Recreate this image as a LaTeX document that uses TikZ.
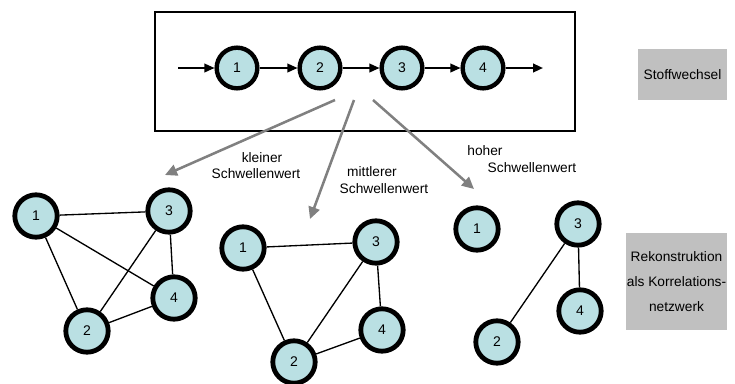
\documentclass[tikz,border=0pt]{standalone}
\usepackage{fontspec}
\setmainfont{Liberation Sans}
\usetikzlibrary{arrows.meta}
\definecolor{nodefill}{RGB}{186,224,227}
\definecolor{arrgray}{RGB}{128,128,128}
\definecolor{boxgray}{RGB}{192,192,192}
\tikzset{
  px/.style={x=0.75pt,y=-0.75pt},
  met/.style={circle,draw=black,fill=nodefill,line width=3.3pt,minimum size=30.5pt,inner sep=0pt,font=\fontsize{10.5pt}{12pt}\selectfont},
  net/.style={circle,draw=black,fill=nodefill,line width=3.6pt,minimum size=31.8pt,inner sep=0pt,font=\fontsize{10.5pt}{12pt}\selectfont},
  flow/.style={line width=1.1pt,-{Triangle[length=7.5pt,width=6.5pt]}},
  edge/.style={line width=1pt},
  grayarrow/.style={draw=arrgray,line width=1.9pt,-{Triangle[length=9pt,width=8.5pt]},arrgray},
  lbl/.style={font=\fontsize{10.3pt}{12pt}\selectfont,inner sep=0pt},
  graybox/.style={fill=boxgray,inner sep=0pt,font=\fontsize{10.3pt}{18.75pt}\selectfont}
}
\begin{document}
\begin{tikzpicture}[px]
\useasboundingbox (0,0) rectangle (735,383);
% top frame
\node[draw=black,line width=1.1pt,minimum width=315pt,minimum height=89pt,inner sep=0pt] (frame) at (365,71.5) {};
% metabolic chain
\node[met] (m1) at (237,68) {1};
\node[met] (m2) at (320,68) {2};
\node[met] (m3) at (402,68) {3};
\node[met] (m4) at (483,68) {4};
\coordinate (in) at (178,68);
\coordinate (out) at (543,68);
\draw[flow] (in) -- (m1);
\draw[flow] (m1) -- (m2);
\draw[flow] (m2) -- (m3);
\draw[flow] (m3) -- (m4);
\draw[flow,line width=1.6pt] (m4) -- (out);
% side boxes
\node[graybox,minimum width=66.75pt,minimum height=38.25pt] (stoff) at (682.5,74.5) {Stoffwechsel};
\node[graybox,minimum width=75.75pt,minimum height=72.75pt,align=center] (rekon) at (676.5,281.5)
  {Rekonstruktion\\als Korrelations-\\netzwerk};
% gray arrows
\coordinate (s1) at (335,100);
\coordinate (e1) at (165,175);
\coordinate (s2) at (354,100);
\coordinate (e2) at (310,219);
\coordinate (s3) at (373,100);
\coordinate (e3) at (474,189);
\draw[grayarrow] (s1) -- (e1);
\draw[grayarrow] (s2) -- (e2);
\draw[grayarrow] (s3) -- (e3);
% labels
\node[lbl] (k1) at (262,158) {kleiner};
\node[lbl] (k2) at (256,174) {Schwellenwert};
\node[lbl] (mi1) at (372,172) {mittlerer};
\node[lbl] (mi2) at (384,189) {Schwellenwert};
\node[lbl] (h1) at (485,151) {hoher};
\node[lbl] (h2) at (532,168) {Schwellenwert};
% left network
\node[net] (a1) at (36,216) {1};
\node[net] (a3) at (169,211) {3};
\node[net] (a4) at (174,298) {4};
\node[net] (a2) at (87,331) {2};
\draw[edge] (a1) -- (a3);
\draw[edge] (a1) -- (a2);
\draw[edge] (a1) -- (a4);
\draw[edge] (a3) -- (a2);
\draw[edge] (a3) -- (a4);
\draw[edge] (a2) -- (a4);
% middle network
\node[net] (b1) at (243,248) {1};
\node[net] (b3) at (376,242) {3};
\node[net] (b4) at (382,330) {4};
\node[net] (b2) at (294,362) {2};
\draw[edge] (b1) -- (b3);
\draw[edge] (b1) -- (b2);
\draw[edge] (b3) -- (b2);
\draw[edge] (b3) -- (b4);
\draw[edge] (b2) -- (b4);
% right network
\node[net] (c1) at (477,229) {1};
\node[net] (c3) at (578,224) {3};
\node[net] (c4) at (580,311) {4};
\node[net] (c2) at (497,342) {2};
\draw[edge] (c3) -- (c2);
\draw[edge] (c3) -- (c4);
\end{tikzpicture}
\end{document}
